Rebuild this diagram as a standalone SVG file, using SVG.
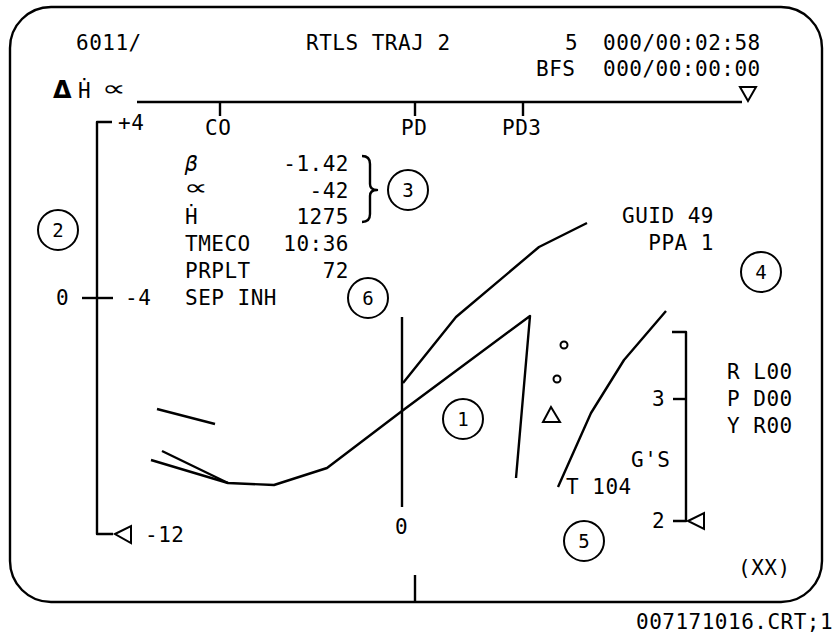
<svg xmlns="http://www.w3.org/2000/svg" width="835" height="633" viewBox="0 0 835 633">
<style>
.t{font-family:"DejaVu Sans Mono","Liberation Mono",monospace;font-size:21px;letter-spacing:0.5px;fill:#000}
.e{text-anchor:end}
.a{font-family:"DejaVu Sans","Liberation Sans",sans-serif;font-size:21px;fill:#000}
.c{font-family:"DejaVu Sans Mono","Liberation Mono",monospace;font-size:19px;fill:#000;text-anchor:middle}
.l{fill:none;stroke:#000;stroke-width:2.4;stroke-linejoin:round;stroke-linecap:butt}
.o{fill:none;stroke:#000;stroke-width:2}
</style>
<rect width="835" height="633" fill="#fff"/>
<g id="frame">
<rect class="l" x="10" y="7" width="812" height="595" rx="41" ry="41"/>
<line class="l" x1="415" y1="575" x2="415" y2="602"/>
</g>
<g id="header">
<text class="t" x="76" y="50">6011/</text>
<text class="t" x="306" y="50">RTLS TRAJ 2</text>
<text class="t" x="565" y="50">5</text>
<text class="t" x="603" y="50">000/00:02:58</text>
<text class="t" x="536" y="76">BFS</text>
<text class="t" x="603" y="76">000/00:00:00</text>
</g>
<g id="timeline">
<text x="53" y="98" font-family="DejaVu Sans, sans-serif" font-weight="bold" font-size="24">Δ</text>
<text class="t" x="78" y="98">Ḣ</text>
<text class="a" transform="translate(102,96) scale(1.6,1.05)">∝</text>
<polyline class="l" points="137,102 742,102"/>
<line class="l" x1="220" y1="102" x2="220" y2="116"/>
<line class="l" x1="415" y1="102" x2="415" y2="116"/>
<line class="l" x1="523" y1="102" x2="523" y2="116"/>
<polygon class="o" points="740,87 756,87 748,101"/>
<text class="t" x="205" y="135">CO</text>
<text class="t" x="401" y="135">PD</text>
<text class="t" x="502" y="135">PD3</text>
</g>
<g id="left-scale">
<polyline class="l" points="112,122 97,122 97,534 113,534"/>
<line class="l" x1="82" y1="298" x2="113" y2="298"/>
<polygon class="o" points="115,534 131,526 131,543"/>
<text class="t" x="118" y="130">+4</text>
<text class="t" x="56" y="305">0</text>
<text class="t" x="125" y="305">-4</text>
<text class="t" x="145" y="542">-12</text>
</g>
<g id="data">
<text class="t" x="185" y="171" font-style="italic">β</text>
<text class="t e" x="349" y="171">-1.42</text>
<text class="a" transform="translate(184,195) scale(1.6,1.05)">∝</text>
<text class="t e" x="349" y="198">-42</text>
<text class="t" x="185" y="224">Ḣ</text>
<text class="t e" x="349" y="224">1275</text>
<text class="t" x="185" y="251">TMECO</text>
<text class="t e" x="349" y="251">10:36</text>
<text class="t" x="185" y="278">PRPLT</text>
<text class="t e" x="349" y="278">72</text>
<text class="t" x="185" y="305">SEP INH</text>
<path class="l" d="M362,156 Q370,156 370,164 L370,184 Q370,190 377,190 Q370,190 370,196 L370,214 Q370,222 362,222"/>
<text class="t e" x="714" y="223">GUID 49</text>
<text class="t e" x="714" y="250">PPA 1</text>
</g>
<g id="plot">
<line class="l" x1="402" y1="317" x2="402" y2="507"/>
<text class="t" x="395" y="534">0</text>
<polyline class="l" points="403,383 456,317 539,247 587,223"/>
<polyline class="l" points="151,460 228,483 274,485 327,468 402,411 530,316 516,478"/>
<line class="l" x1="162" y1="451" x2="228" y2="483"/>
<line class="l" x1="157" y1="409" x2="215" y2="424"/>
<circle class="o" cx="564" cy="345" r="3.5"/>
<circle class="o" cx="557" cy="379" r="3.5"/>
<polygon class="o" points="551,407 543,422 560,422"/>
<polyline class="l" points="666,311 624,360 591,413 558,487"/>
<text class="t" x="566" y="494">T 104</text>
<text class="t" x="631" y="467">G'S</text>
</g>
<g id="g-scale">
<polyline class="l" points="672,332 686,332 686,521 673,521"/>
<line class="l" x1="673" y1="399" x2="686" y2="399"/>
<polygon class="o" points="688,521 704,513 704,529"/>
<text class="t" x="652" y="406">3</text>
<text class="t" x="652" y="528">2</text>
<text class="t" x="727" y="379">R L00</text>
<text class="t" x="727" y="406">P D00</text>
<text class="t" x="727" y="433">Y R00</text>
<text class="t" x="738" y="575">(XX)</text>
</g>
<g id="callout-1"><circle class="o" cx="463" cy="419" r="20"/><text class="c" x="463" y="426">1</text></g>
<g id="callout-2"><circle class="o" cx="58" cy="230" r="20"/><text class="c" x="58" y="237">2</text></g>
<g id="callout-3"><circle class="o" cx="408" cy="190" r="20"/><text class="c" x="408" y="197">3</text></g>
<g id="callout-4"><circle class="o" cx="761" cy="272" r="20"/><text class="c" x="761" y="279">4</text></g>
<g id="callout-5"><circle class="o" cx="584" cy="541" r="20"/><text class="c" x="584" y="548">5</text></g>
<g id="callout-6"><circle class="o" cx="368" cy="298" r="20"/><text class="c" x="368" y="305">6</text></g>
<text class="t" x="636" y="629" font-size="20" letter-spacing="0.2">007171016.CRT;1</text>
</svg>
